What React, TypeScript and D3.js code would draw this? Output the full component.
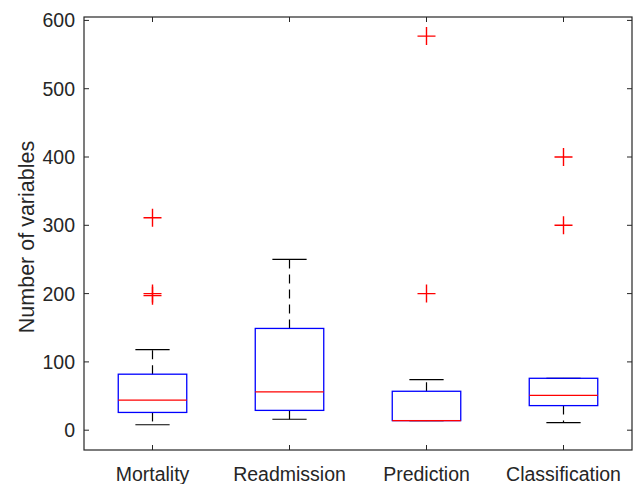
import * as d3 from 'd3';
import { useEffect, useRef } from 'react';

const categories = ['Mortality', 'Readmission', 'Prediction', 'Classification'];
// box statistics: [lower whisker, q1, median, q3, upper whisker]
const lowerWhisker = [8, 16, 14, 11];
const q1 = [26, 29, 14, 36];
const medians = [44, 56, 14, 51];
const q3 = [82, 149, 57, 76];
const upperWhisker = [118, 250, 74, 76];
const outliers: number[][] = [[197, 200, 311], [], [200, 577], [300, 400]];
const yTicks = [0, 100, 200, 300, 400, 500, 600];

const W = 638;
const H = 484;
const FONT = 'Helvetica, Arial, "Liberation Sans", sans-serif';
const FONT_SIZE = '19.5px';
const LABEL_SIZE = '21.5px';
const AXIS = '#262626';

const App = () => {
    const svgRef = useRef<SVGSVGElement | null>(null);

    useEffect(() => {
        if (!svgRef.current) return;
        const svg = d3.select(svgRef.current);
        svg.selectAll('*').remove();

        const margin = { top: 17, right: 6, bottom: 34, left: 84 };
        const innerWidth = W - margin.left - margin.right;
        const innerHeight = H - margin.top - margin.bottom;

        const x = d3.scaleLinear().domain([0.5, 4.5]).range([0, innerWidth]);
        const y = d3.scaleLinear().domain([-29, 605]).range([innerHeight, 0]);

        const g = svg.append('g').attr('transform', `translate(${margin.left},${margin.top})`);

        // axes box
        g.append('rect')
            .attr('width', innerWidth)
            .attr('height', innerHeight)
            .attr('fill', 'white')
            .attr('stroke', AXIS)
            .attr('stroke-width', 1.2);

        const tickLen = 5;
        // y ticks, left and right, pointing inward
        yTicks.forEach((t) => {
            g.append('line').attr('x1', 0).attr('x2', tickLen).attr('y1', y(t)).attr('y2', y(t)).attr('stroke', AXIS);
            g.append('line')
                .attr('x1', innerWidth)
                .attr('x2', innerWidth - tickLen)
                .attr('y1', y(t))
                .attr('y2', y(t))
                .attr('stroke', AXIS);
            g.append('text')
                .attr('x', -9)
                .attr('y', y(t))
                .attr('dy', '0.36em')
                .attr('text-anchor', 'end')
                .attr('fill', AXIS)
                .style('font-family', FONT)
                .style('font-size', FONT_SIZE)
                .text(t);
        });

        // x ticks, bottom and top
        categories.forEach((c, i) => {
            const cx = x(i + 1);
            g.append('line').attr('x1', cx).attr('x2', cx).attr('y1', innerHeight).attr('y2', innerHeight - tickLen).attr('stroke', AXIS);
            g.append('line').attr('x1', cx).attr('x2', cx).attr('y1', 0).attr('y2', tickLen).attr('stroke', AXIS);
            g.append('text')
                .attr('x', cx)
                .attr('y', innerHeight + 31)
                .attr('text-anchor', 'middle')
                .attr('fill', AXIS)
                .style('font-family', FONT)
                .style('font-size', FONT_SIZE)
                .text(c);
        });

        const boxW = x(1.25) - x(1);
        const capW = x(1.125) - x(1);

        categories.forEach((_, i) => {
            const cx = x(i + 1);
            // whiskers (dashed)
            g.append('line')
                .attr('x1', cx)
                .attr('x2', cx)
                .attr('y1', y(q3[i]))
                .attr('y2', y(upperWhisker[i]))
                .attr('stroke', 'black')
                .attr('stroke-width', 1.2)
                .attr('stroke-dasharray', '9,6');
            g.append('line')
                .attr('x1', cx)
                .attr('x2', cx)
                .attr('y1', y(q1[i]))
                .attr('y2', y(lowerWhisker[i]))
                .attr('stroke', 'black')
                .attr('stroke-width', 1.2)
                .attr('stroke-dasharray', '9,6');
            // caps
            [upperWhisker[i], lowerWhisker[i]].forEach((v) => {
                g.append('line')
                    .attr('x1', cx - capW)
                    .attr('x2', cx + capW)
                    .attr('y1', y(v))
                    .attr('y2', y(v))
                    .attr('stroke', 'black')
                    .attr('stroke-width', 1.2);
            });
            // box
            g.append('rect')
                .attr('x', cx - boxW)
                .attr('y', y(q3[i]))
                .attr('width', boxW * 2)
                .attr('height', y(q1[i]) - y(q3[i]))
                .attr('fill', 'none')
                .attr('stroke', '#0000ff')
                .attr('stroke-width', 1.3);
            // median
            g.append('line')
                .attr('x1', cx - boxW)
                .attr('x2', cx + boxW)
                .attr('y1', y(medians[i]))
                .attr('y2', y(medians[i]))
                .attr('stroke', '#ff0000')
                .attr('stroke-width', 1.3);
            // outliers
            outliers[i].forEach((v) => {
                const m = 9;
                g.append('path')
                    .attr('d', `M${cx - m},${y(v)}H${cx + m}M${cx},${y(v) - m}V${y(v) + m}`)
                    .attr('stroke', '#ff0000')
                    .attr('stroke-width', 1.4)
                    .attr('fill', 'none');
            });
        });

        svg.append('text')
            .attr('transform', `translate(34,237) rotate(-90)`)
            .attr('text-anchor', 'middle')
            .attr('fill', AXIS)
            .style('font-family', FONT)
            .style('font-size', LABEL_SIZE)
            .text('Number of variables');
    }, []);

    return <svg ref={svgRef} width={W} height={H} style={{ display: 'block', position: 'absolute', left: 0, top: 0 }} />;
};

export default App;
